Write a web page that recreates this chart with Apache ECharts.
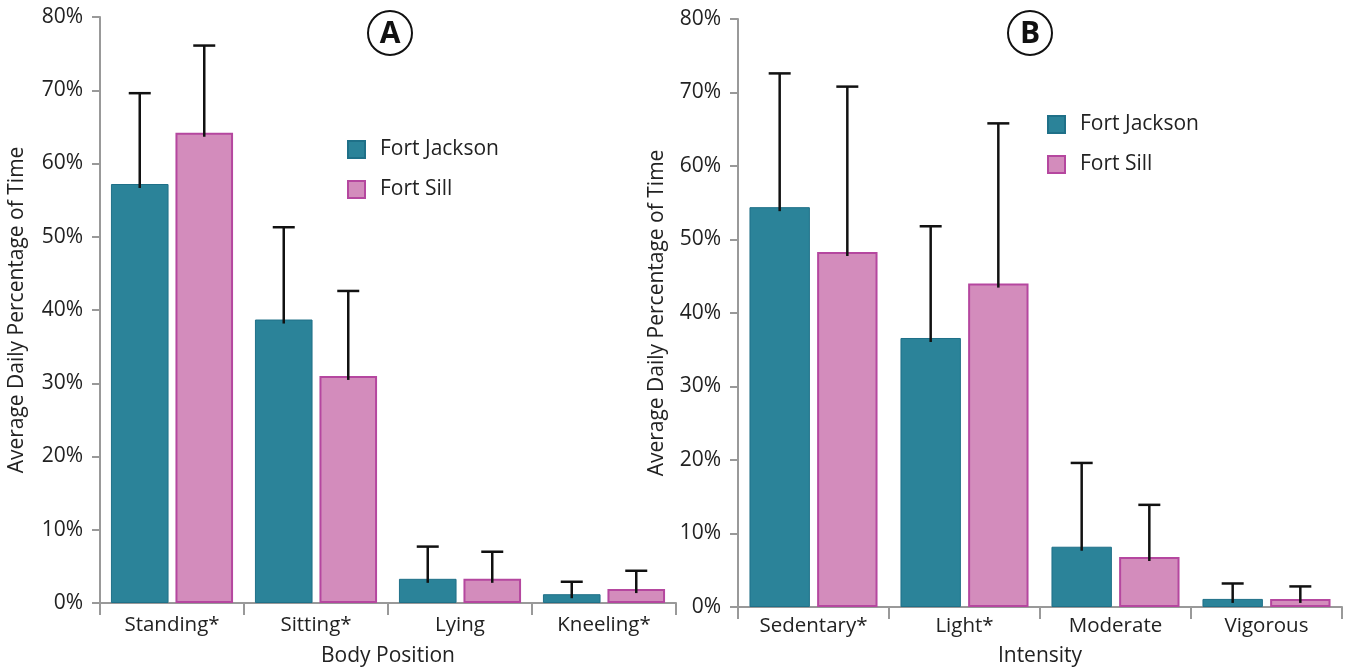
<!DOCTYPE html>
<html>
<head>
<meta charset="utf-8">
<script src="https://cdn.jsdelivr.net/npm/echarts@6/dist/echarts.min.js"></script>
<style>html,body{margin:0;padding:0;background:#fff}#c{width:1347px;height:672px}</style>
</head>
<body>
<div id="c"></div>
<script>
// ---- data ----
const catsA = ['Standing*', 'Sitting*', 'Lying', 'Kneeling*'];
const jacksonA = [57.2, 38.7, 3.3, 1.2];
const jacksonAErr = [69.6, 51.3, 7.7, 2.9];
const sillA = [64.2, 31.0, 3.3, 1.9];
const sillAErr = [76.1, 42.6, 7.0, 4.4];

const catsB = ['Sedentary*', 'Light*', 'Moderate', 'Vigorous'];
const jacksonB = [54.4, 36.6, 8.2, 1.1];
const jacksonBErr = [72.6, 51.8, 19.6, 3.2];
const sillB = [48.3, 44.0, 6.8, 1.1];
const sillBErr = [70.8, 65.8, 13.9, 2.8];

const yTicks = [0, 10, 20, 30, 40, 50, 60, 70, 80];
const seriesNames = ['Fort Jackson', 'Fort Sill'];
const xNames = ['Body Position', 'Intensity'];
const yName = 'Average Daily Percentage of Time';

// ---- styling ----
const FONT = '"Open Sans", "Noto Sans", sans-serif';
const teal = {color: '#2b8399', borderColor: '#1f7088', borderWidth: 1};
const pink = {color: '#d38cbc', borderColor: '#b5479f', borderWidth: 2};
const BAR_FRAC = 0.40, GAP_FRAC = 0.12;

const chart = echarts.init(document.getElementById('c'));

function errSeries(vals, errs, axisIdx, side) {
  return {
    type: 'custom', name: 'err' + axisIdx + side,
    xAxisIndex: axisIdx, yAxisIndex: axisIdx, z: 5,
    encode: {x: 0, y: [1, 2]},
    data: vals.map((v, i) => [i, v, errs[i]]),
    renderItem: function (params, api) {
      const band = api.size([1, 0])[0];
      const bw = band * BAR_FRAC;
      const off = side * (bw + bw * GAP_FRAC) / 2;
      const p0 = api.coord([api.value(0), api.value(1)]);
      const p1 = api.coord([api.value(0), api.value(2)]);
      const x = p0[0] + off;
      const cap = 11;
      const st = {stroke: '#111', lineWidth: 2.5};
      return {type: 'group', children: [
        {type: 'line', shape: {x1: x, y1: p0[1] + 4, x2: x, y2: p1[1]}, style: st},
        {type: 'line', shape: {x1: x - cap, y1: p1[1], x2: x + cap, y2: p1[1]}, style: st}
      ]};
    }
  };
}

function xAxis(cats, idx, margin, nameGap) {
  return {
    type: 'category', gridIndex: idx, data: cats,
    name: xNames[idx], nameLocation: 'middle', nameGap: nameGap,
    nameTextStyle: {fontFamily: FONT, fontSize: 21, color: '#222'},
    axisLine: {lineStyle: {color: '#999', width: 2}},
    axisTick: {show: true, length: 12, lineStyle: {color: '#999', width: 2}},
    axisLabel: {fontFamily: FONT, fontSize: 20.5, color: '#222', margin: margin}
  };
}
function yAxis(idx, gap) {
  return {
    type: 'value', gridIndex: idx, min: yTicks[0], max: yTicks[yTicks.length - 1], interval: 10,
    name: yName, nameLocation: 'middle', nameGap: gap,
    nameTextStyle: {fontFamily: FONT, fontSize: 21, color: '#222'},
    axisLine: {show: true, lineStyle: {color: '#999', width: 2}},
    axisTick: {show: true, length: 8, lineStyle: {color: '#999', width: 2}},
    splitLine: {show: false},
    axisLabel: {fontFamily: FONT, fontSize: 21, color: '#222', margin: 17, formatter: '{value}%'}
  };
}
function legend(left, top) {
  return {
    orient: 'vertical', left: left, top: top, itemWidth: 17, itemHeight: 17, itemGap: 19,
    icon: 'rect', data: seriesNames,
    textStyle: {fontFamily: FONT, fontSize: 21, color: '#222', padding: [0, 0, 0, 10]}
  };
}
function circleLabel(cx, cy, txt) {
  return {
    type: 'group', children: [
      {type: 'circle', shape: {cx: cx, cy: cy, r: 22}, style: {fill: '#fff', stroke: '#111', lineWidth: 2}},
      {type: 'text', x: cx, y: cy + 1, style: {text: txt, fontFamily: FONT, fontWeight: 'bold', fontSize: 30, fill: '#111', align: 'center', verticalAlign: 'middle'}}
    ]
  };
}

chart.setOption({
  animation: false,
  grid: [
    {left: 100, right: 671, top: 17, bottom: 68},
    {left: 738, right: 5, top: 19, bottom: 64}
  ],
  xAxis: [xAxis(catsA, 0, 12, 43), xAxis(catsB, 1, 9, 39)],
  yAxis: [yAxis(0, 72), yAxis(1, 70)],
  legend: [legend(342, 134), legend(1042, 109)],
  graphic: [circleLabel(390, 33, 'A'), circleLabel(1030, 33, 'B')],
  series: [
    {type: 'bar', name: seriesNames[0], xAxisIndex: 0, yAxisIndex: 0, data: jacksonA, barWidth: (BAR_FRAC * 100) + '%', barGap: (GAP_FRAC * 100) + '%', itemStyle: teal},
    {type: 'bar', name: seriesNames[1], xAxisIndex: 0, yAxisIndex: 0, data: sillA, barWidth: (BAR_FRAC * 100) + '%', barGap: (GAP_FRAC * 100) + '%', itemStyle: pink},
    {type: 'bar', name: seriesNames[0], xAxisIndex: 1, yAxisIndex: 1, data: jacksonB, barWidth: (BAR_FRAC * 100) + '%', barGap: (GAP_FRAC * 100) + '%', itemStyle: teal},
    {type: 'bar', name: seriesNames[1], xAxisIndex: 1, yAxisIndex: 1, data: sillB, barWidth: (BAR_FRAC * 100) + '%', barGap: (GAP_FRAC * 100) + '%', itemStyle: pink},
    errSeries(jacksonA, jacksonAErr, 0, -1),
    errSeries(sillA, sillAErr, 0, 1),
    errSeries(jacksonB, jacksonBErr, 1, -1),
    errSeries(sillB, sillBErr, 1, 1)
  ]
});
</script>
</body>
</html>
